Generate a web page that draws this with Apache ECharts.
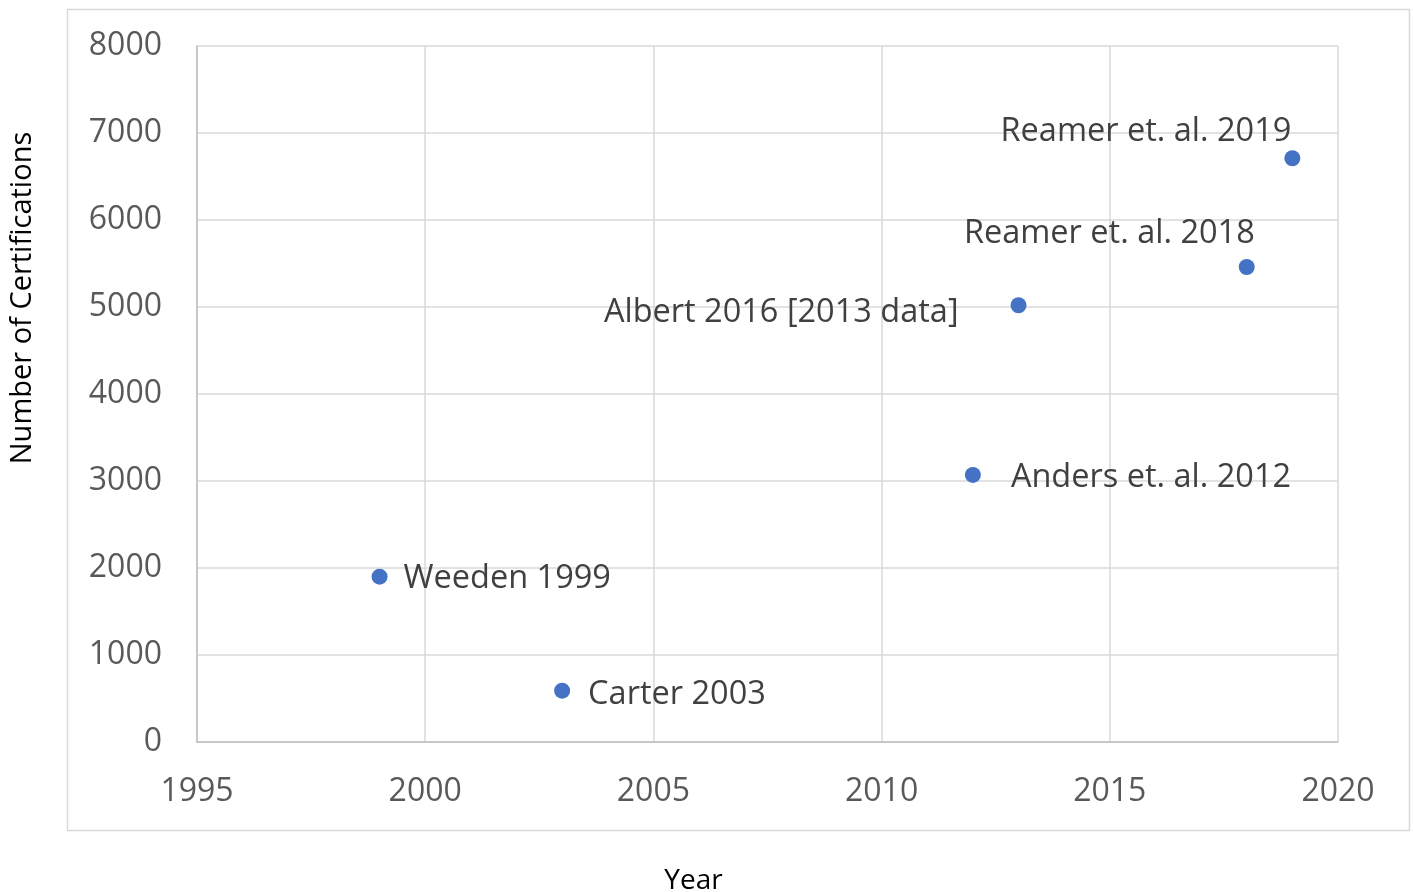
<!DOCTYPE html>
<html>
<head>
<meta charset="utf-8">
<script src="https://cdn.jsdelivr.net/npm/echarts@6/dist/echarts.min.js"></script>
<style>
html,body{margin:0;padding:0;background:#fff;}
#chart{width:1413px;height:892px;}
</style>
</head>
<body>
<div id="chart"></div>
<script>
// Data
const studies = ["Weeden 1999", "Carter 2003", "Anders et. al. 2012", "Albert 2016 [2013 data]", "Reamer et. al. 2018", "Reamer et. al. 2019"];
const years = [1999, 2003, 2012, 2013, 2018, 2019];
const certifications = [1900, 590, 3070, 5020, 5460, 6710];
const xTicks = [1995, 2000, 2005, 2010, 2015, 2020];
const yTicks = [0, 1000, 2000, 3000, 4000, 5000, 6000, 7000, 8000];

// Label placement (layout only)
const labelPlacement = [
  {position: 'right', offset: [11, 2]},
  {position: 'right', offset: [13, 4]},
  {position: 'right', offset: [25, 3]},
  {position: 'left', offset: [-47, 7]},
  {position: 'left', offset: [21, -33]},
  {position: 'left', offset: [12, -26]}
];

const FONT = '"Open Sans", "Noto Sans", sans-serif';
const chart = echarts.init(document.getElementById('chart'), null, {renderer: 'canvas'});

const seriesData = years.map((y, i) => ({
  value: [y, certifications[i]],
  name: studies[i],
  label: {
    show: true,
    position: labelPlacement[i].position,
    offset: labelPlacement[i].offset,
    formatter: studies[i]
  }
}));

chart.setOption({
  backgroundColor: '#ffffff',
  animation: false,
  graphic: [{
    type: 'rect',
    shape: {x: 67.5, y: 9.5, width: 1342, height: 821},
    style: {fill: 'none', stroke: '#d9d9d9', lineWidth: 1.5},
    silent: true,
    z: -1
  }],
  grid: {left: 197, right: 75, top: 46, bottom: 150, containLabel: false, outerBoundsMode: 'none'},
  xAxis: {
    type: 'value',
    min: xTicks[0],
    max: xTicks[xTicks.length - 1],
    interval: xTicks[1] - xTicks[0],
    name: 'Year',
    nameLocation: 'middle',
    nameGap: 125,
    nameTextStyle: {color: '#000000', fontSize: 28, fontFamily: FONT, padding: [0, 148, 0, 0]},
    axisLine: {show: true, lineStyle: {color: '#bfbfbf', width: 1.5}},
    axisTick: {show: false},
    axisLabel: {color: '#595959', fontSize: 32, fontFamily: FONT, margin: 34, formatter: v => String(v)},
    splitLine: {show: true, lineStyle: {color: '#d9d9d9', width: 1.5}}
  },
  yAxis: {
    type: 'value',
    min: yTicks[0],
    max: yTicks[yTicks.length - 1],
    interval: yTicks[1] - yTicks[0],
    name: 'Number of Certifications',
    nameLocation: 'middle',
    nameGap: 160,
    nameRotate: 90,
    nameTextStyle: {color: '#000000', fontSize: 29, fontFamily: FONT, padding: [0, 0, 0, 192]},
    axisLine: {show: true, lineStyle: {color: '#bfbfbf', width: 1.5}},
    axisTick: {show: false},
    axisLabel: {color: '#595959', fontSize: 32, fontFamily: FONT, margin: 35, formatter: v => String(v)},
    splitLine: {show: true, lineStyle: {color: '#d9d9d9', width: 1.5}}
  },
  series: [{
    type: 'scatter',
    symbol: 'circle',
    symbolSize: 16,
    itemStyle: {color: '#4472C4', opacity: 1},
    label: {color: '#404040', opacity: 1, fontSize: 32.5, fontFamily: FONT},
    data: seriesData
  }]
});
</script>
</body>
</html>
